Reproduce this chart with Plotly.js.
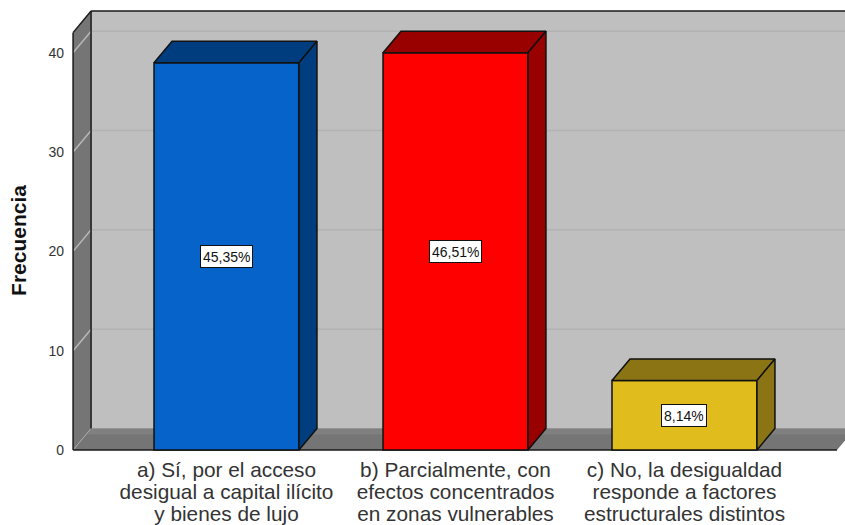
<!DOCTYPE html>
<html><head><meta charset="utf-8">
<script src="https://cdn.plot.ly/plotly-3.0.1.min.js"></script>
<style>html,body{margin:0;padding:0;background:#fff}#c{width:845px;height:525px}</style>
</head><body><div id="c"></div>
<script>
const categories = ["a) Sí, por el acceso<br>desigual a capital ilícito<br>y bienes de lujo",
                    "b) Parcialmente, con<br>efectos concentrados<br>en zonas vulnerables",
                    "c) No, la desigualdad<br>responde a factores<br>estructurales distintos"];
const frequencies = [39, 40, 7];
const percentLabels = ["45,35%", "46,51%", "8,14%"];
const frontColors = ["#0563C9", "#FF0000", "#E1BC1D"];
const shadeColors = ["#003D7E", "#990000", "#8B7413"];
const yTicks = [0, 10, 20, 30, 40];

const positions = categories.map((_, i) => i);
const barWidth = 0.633, depthX = 0.0786, depthY = 2.17;
const xMin = -0.6834, xMax = 2.701, yMin = -2.316, yMax = 44.51;
const wallTop = 44.2, floorRight = 2.666;
const edge = "#1a1a1a";

function path(pts){ return "M" + pts.map(p => p[0] + "," + p[1]).join("L") + "Z"; }
function poly(pts, fill){
  return {type:"path", xref:"x", yref:"y", layer:"below", path:path(pts), fillcolor:fill, line:{width:0}};
}
function seg(x0,y0,x1,y1,color,width){
  return {type:"line", xref:"x", yref:"y", layer:"below", x0,y0,x1,y1, line:{color,width}};
}
const wallLeft = xMin + 0.0134;

const shapes = [
  poly([[wallLeft+depthX,depthY],[wallLeft+depthX,wallTop],[xMax+1,wallTop],[xMax+1,depthY]], "#BFBFBF"),
  poly([[wallLeft,0],[wallLeft,wallTop-depthY],[wallLeft+depthX,wallTop],[wallLeft+depthX,depthY]], "#757575"),
  poly([[wallLeft,0],[wallLeft+depthX,depthY],[floorRight+depthX,depthY],[floorRight,0]], "#757575"),
  poly([[wallLeft+depthX*0.72,depthY*0.72],[wallLeft+depthX,depthY],[xMax+1,depthY],[xMax+1,depthY*0.72]], "#808080")
];
yTicks.filter(v => v > 0).forEach(v => {
  shapes.push(seg(wallLeft+depthX,v+depthY,xMax+1,v+depthY,"#B2B2B2",1.5));
  shapes.push(seg(wallLeft,v,wallLeft+depthX,v+depthY,"#B8B8B8",1.5));
});
shapes.push(seg(wallLeft,0,wallLeft+depthX,depthY,"#A8A8A8",1));
shapes.push(seg(wallLeft+depthX,wallTop,xMax+1,wallTop,edge,1.5));
shapes.push(seg(wallLeft,wallTop-depthY,wallLeft+depthX,wallTop,edge,1.5));
shapes.push(seg(wallLeft,0,wallLeft,wallTop-depthY,edge,1.5));
shapes.push(seg(wallLeft+depthX,depthY,wallLeft+depthX,wallTop,edge,1.5));
shapes.push(seg(wallLeft,0,floorRight,0,edge,1.5));

const traces = [{
  type:"bar", x:positions, y:frequencies, width:barWidth,
  marker:{color:frontColors, line:{color:"#111", width:1.5}},
  hoverinfo:"skip", showlegend:false
}];
positions.forEach((p,i) => {
  const v = frequencies[i], l = p-barWidth/2, r = p+barWidth/2;
  traces.push({type:"scatter", mode:"lines", fill:"toself", fillcolor:shadeColors[i],
    x:[l,l+depthX,r+depthX,r,l], y:[v,v+depthY,v+depthY,v,v],
    line:{color:"#111",width:1.5}, hoverinfo:"skip", showlegend:false});
  traces.push({type:"scatter", mode:"lines", fill:"toself", fillcolor:shadeColors[i],
    x:[r,r+depthX,r+depthX,r,r], y:[0,depthY,v+depthY,v,0],
    line:{color:"#111",width:1.5}, hoverinfo:"skip", showlegend:false});
});

const annotations = positions.map((p,i) => ({
  x:p, y:frequencies[i]/2, xref:"x", yref:"y", text:percentLabels[i], showarrow:false,
  bgcolor:"#fff", bordercolor:"#111", borderwidth:1, borderpad:2, height:17,
  font:{family:"Liberation Sans, Arial, sans-serif", size:14, color:"#111"}
}));

const layout = {
  width:845, height:525, paper_bgcolor:"#fff", plot_bgcolor:"rgba(0,0,0,0)",
  margin:{l:70, r:0, t:8, b:52, pad:0}, showlegend:false, shapes, annotations,
  font:{family:"Liberation Sans, Arial, sans-serif", color:"#333"},
  xaxis:{type:"linear", range:[xMin,xMax], tickmode:"array", tickvals:positions, ticktext:categories,
    showgrid:false, zeroline:false, showline:false, ticks:"", ticklabelstandoff:-18, tickangle:0,
    tickfont:{size:20.8, color:"#333"}},
  yaxis:{range:[yMin,yMax], tickmode:"array", tickvals:yTicks, ticktext:yTicks.map(String),
    showgrid:false, zeroline:false, showline:false, ticks:"", ticklabelstandoff:5, tickfont:{size:14, color:"#333"},
    title:{text:"<b>Frecuencia</b>", standoff:16, font:{size:21, color:"#111"}}}
};
Plotly.newPlot("c", traces, layout, {displayModeBar:false, staticPlot:true}).then(() => {
  document.querySelectorAll(".xtick text").forEach(txt => {
    txt.querySelectorAll("tspan.line").forEach((t, i) => t.setAttribute("dy", (i * 1.06) + "em"));
  });
});
</script></body></html>
